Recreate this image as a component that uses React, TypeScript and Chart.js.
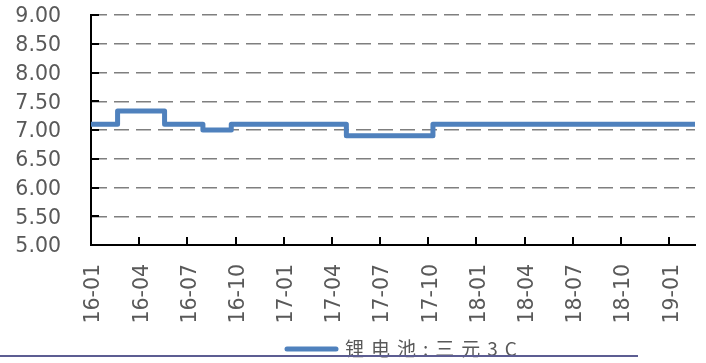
import React, { useEffect, useRef } from "react";
import { Chart, registerables } from "chart.js";

Chart.register(...registerables);

// Dates at which the price changed (step points) and the new price from that date
const changeDates = [
  "2016-01-01",
  "2016-02-20",
  "2016-05-19",
  "2016-07-31",
  "2016-09-23",
  "2017-04-28",
  "2017-10-10",
  "2019-02-18",
];
const prices = [7.1, 7.33, 7.1, 7.0, 7.1, 6.9, 7.1, 7.1];

const tickLabels = [
  "16-01", "16-04", "16-07", "16-10",
  "17-01", "17-04", "17-07", "17-10",
  "18-01", "18-04", "18-07", "18-10",
  "19-01",
];

const seriesName = "锂电池:三元3C";
const yMin = 5;
const yMax = 9;
const yStep = 0.5;

function monthIndex(d: string): number {
  const [y, m, day] = d.split("-").map(Number);
  const dim = new Date(y, m, 0).getDate();
  return (y - 2016) * 12 + (m - 1) + (day - 1) / dim;
}
function labelIndex(l: string): number {
  const [yy, mm] = l.split("-").map(Number);
  return (yy - 16) * 12 + (mm - 1);
}

const tickFont = { family: "'DejaVu Sans'", size: 20.5 };
const textColor = "#595959";
const lineColor = "#4F81BD";

const innerTicks = {
  id: "innerTicks",
  afterDatasetsDraw(chart: any) {
    const { ctx, chartArea, scales } = chart;
    const x = scales.x;
    const y = scales.y;
    ctx.save();
    ctx.strokeStyle = "#000";
    ctx.lineWidth = 2;
    ctx.beginPath();
    y.ticks.forEach((t: any) => {
      const py = Math.round(y.getPixelForValue(t.value));
      ctx.moveTo(chartArea.left, py);
      ctx.lineTo(chartArea.left + 8, py);
    });
    x.ticks.forEach((t: any) => {
      const px = Math.round(x.getPixelForValue(t.value));
      ctx.moveTo(px, chartArea.bottom);
      ctx.lineTo(px, chartArea.bottom - 8);
    });
    ctx.stroke();
    ctx.restore();
  },
};

// Legend drawn below the axis labels: line sample + series name
const bottomLegend = {
  id: "bottomLegend",
  afterDraw(chart: any) {
    const { ctx } = chart;
    const ds = chart.data.datasets[0];
    const cy = 349;
    ctx.save();
    ctx.strokeStyle = ds.borderColor;
    ctx.lineWidth = 5;
    ctx.lineCap = "round";
    ctx.beginPath();
    ctx.moveTo(287, cy);
    ctx.lineTo(336, cy);
    ctx.stroke();
    ctx.font = "19px 'Noto Sans CJK SC'";
    ctx.fillStyle = textColor;
    ctx.textAlign = "left";
    ctx.textBaseline = "middle";
    (ctx as any).letterSpacing = "7px";
    ctx.fillText(ds.label, 345, cy);
    (ctx as any).letterSpacing = "0px";
    ctx.restore();
  },
};

export default function App() {
  const ref = useRef<HTMLCanvasElement | null>(null);

  useEffect(() => {
    if (!ref.current) return;
    const points = changeDates.map((d, i) => ({ x: monthIndex(d), y: prices[i] }));
    const endX = points[points.length - 1].x;
    const chart = new Chart(ref.current, {
      type: "line",
      data: {
        datasets: [
          {
            label: seriesName,
            data: points,
            stepped: "before",
            borderColor: lineColor,
            backgroundColor: lineColor,
            borderWidth: 5,
            pointRadius: 0,
            borderJoinStyle: "round",
            borderCapStyle: "round",
            fill: false,
          } as any,
        ],
      },
      options: {
        responsive: false,
        animation: false,
        layout: { padding: { left: 0, right: 11, top: 15, bottom: 32 } },
        plugins: {
          legend: { display: false },
          tooltip: { enabled: false },
        },
        scales: {
          x: {
            type: "linear",
            min: 0,
            max: endX,
            grid: { display: false, drawTicks: false },
            border: { display: true, color: "#000", width: 2 },
            ticks: {
              autoSkip: false,
              minRotation: 90,
              maxRotation: 90,
              padding: 19,
              labelOffset: 3,
              color: textColor,
              font: tickFont,
              callback: (_v: any, i: number) => tickLabels[i],
            },
            afterBuildTicks: (s: any) => {
              s.ticks = tickLabels.map((l) => ({ value: labelIndex(l) }));
            },
            afterFit: (s: any) => {
              s.height = 86;
              s.paddingLeft = 0;
              s.paddingRight = 0;
            },
          },
          y: {
            type: "linear",
            min: yMin,
            max: yMax,
            grid: { color: "#7f7f7f", lineWidth: 1.5, drawTicks: false },
            border: { display: true, color: "#000", width: 2, dash: [15, 7] },
            ticks: {
              stepSize: yStep,
              autoSkip: false,
              padding: 30,
              labelOffset: 2,
              color: textColor,
              font: tickFont,
              callback: (v: any) => Number(v).toFixed(2),
            },
            afterFit: (s: any) => {
              s.width = 91;
              s.paddingTop = 0;
              s.paddingBottom = 0;
            },
          },
        },
      } as any,
      plugins: [innerTicks, bottomLegend],
    });
    return () => chart.destroy();
  }, []);

  return (
    <div style={{ position: "fixed", left: 0, top: 0, width: 706, height: 363, background: "#fff" }}>
      <canvas ref={ref} width={706} height={363} style={{ display: "block" }} />
      <div
        style={{
          position: "absolute",
          left: 0,
          top: 355,
          width: 638,
          height: 2,
          background: "#5c5d92",
        }}
      />
    </div>
  );
}
